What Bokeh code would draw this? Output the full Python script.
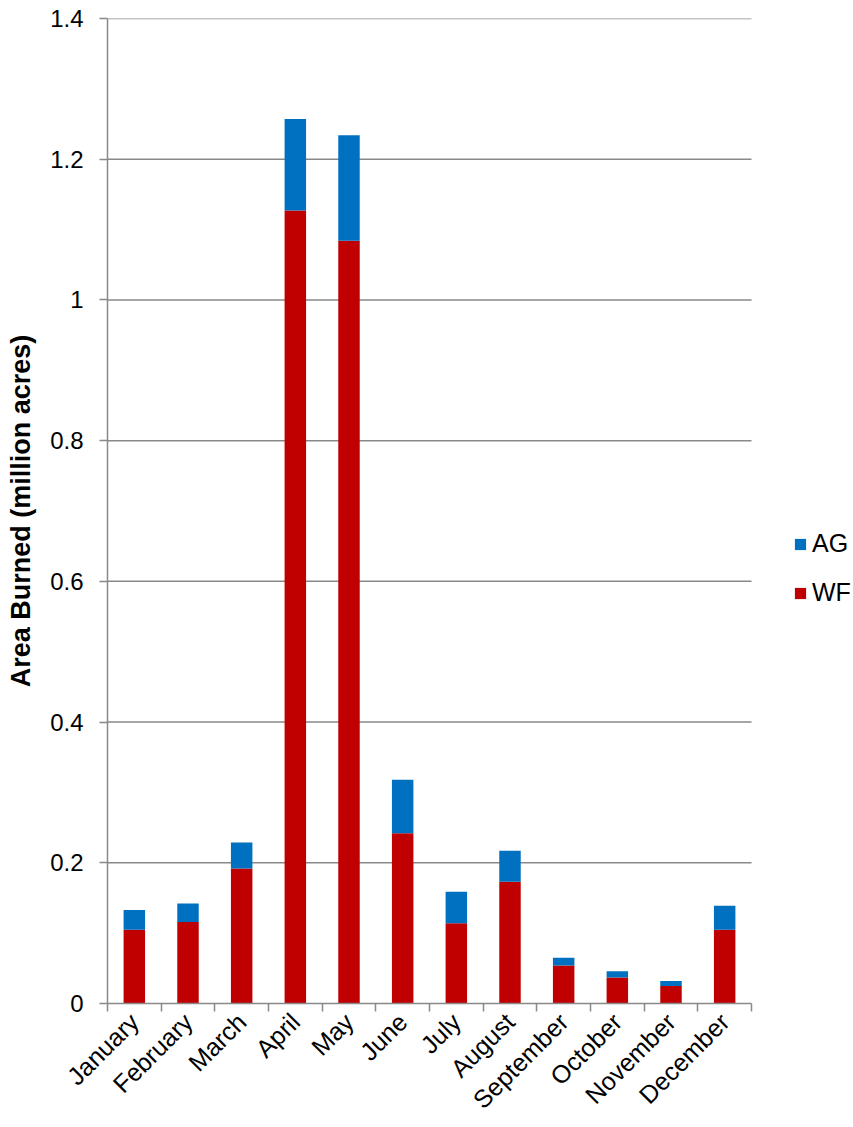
import math
from bokeh.plotting import figure
from bokeh.models import Range1d, FixedTicker, CustomJSTickFormatter, Legend, LegendItem, ColumnDataSource
from bokeh.embed import file_html
from bokeh.resources import INLINE

months = ["January", "February", "March", "April", "May", "June", "July",
          "August", "September", "October", "November", "December"]
wf = [0.105, 0.116, 0.192, 1.127, 1.084, 0.242, 0.114, 0.173, 0.054, 0.037, 0.025, 0.105]
ag = [0.028, 0.026, 0.037, 0.130, 0.150, 0.076, 0.045, 0.044, 0.011, 0.009, 0.007, 0.034]
y_ticks = [0, 0.2, 0.4, 0.6, 0.8, 1.0, 1.2, 1.4]

FONT = "Liberation Sans"
GRAY = "#898989"

n = len(months)
x = [i + 0.5 for i in range(n)]
src = ColumnDataSource(dict(x=x, WF=wf, AG=ag))

# frame extends to the right edge so the legend (outside the plotted area) is not clipped
FRAME_W = 746
PLOT_W = 644
x_max = n * FRAME_W / PLOT_W

p = figure(frame_width=FRAME_W, frame_height=985, output_backend="svg", toolbar_location=None,
           x_range=Range1d(0, x_max), y_range=Range1d(0, 1.4),
           min_border_left=107, min_border_right=0, min_border_top=18, min_border_bottom=124)
p.outline_line_color = None
p.background_fill_color = "white"
p.border_fill_color = "white"

p.xgrid.grid_line_color = None
p.ygrid.grid_line_color = None
# horizontal gridlines limited to the category span
gy = [t for t in y_ticks if t > 0]
p.segment(x0=[0] * len(gy), x1=[n] * len(gy), y0=gy, y1=gy, line_color=GRAY, line_width=1.5)

rs = p.vbar_stack(["WF", "AG"], x="x", width=0.4, source=src,
                  color=["#C00000", "#0070C0"], line_color=None)

# X axis
xa = p.xaxis[0]
xa.bounds = (0, n)
xa.ticker = FixedTicker(ticks=x, minor_ticks=list(range(n + 1)))
xa.major_label_overrides = {xi: m for xi, m in zip(x, months)}
xa.major_label_orientation = math.pi / 4
xa.major_tick_out = 0
xa.major_tick_in = 0
xa.minor_tick_out = 8
xa.minor_tick_in = 0
xa.minor_tick_line_color = GRAY
xa.minor_tick_line_width = 1.5
xa.axis_line_color = GRAY
xa.axis_line_width = 1.5
xa.major_label_text_font = FONT
xa.major_label_text_font_size = "25px"
xa.major_label_text_color = "black"
xa.major_label_standoff = 6

# Y axis
ya = p.yaxis[0]
ya.ticker = FixedTicker(ticks=y_ticks, minor_ticks=[])
ya.formatter = CustomJSTickFormatter(code="return tick.toFixed(1).replace(/\\.0$/, '');")
ya.major_tick_out = 8
ya.major_tick_in = 0
ya.major_tick_line_color = GRAY
ya.major_tick_line_width = 1.5
ya.minor_tick_line_color = None
ya.axis_line_color = GRAY
ya.axis_line_width = 1.5
ya.major_label_text_font = FONT
ya.major_label_text_font_size = "24px"
ya.major_label_text_color = "black"
ya.major_label_standoff = 16
ya.axis_label = "Area Burned (million acres)"
ya.axis_label_text_font = FONT
ya.axis_label_text_font_size = "27px"
ya.axis_label_text_font_style = "bold"
ya.axis_label_text_color = "black"
ya.axis_label_standoff = 11

legend = Legend(items=[LegendItem(label="AG", renderers=[rs[1]]),
                       LegendItem(label="WF", renderers=[rs[0]])],
                location=(686, 396), orientation="vertical")
legend.glyph_width = 14
legend.glyph_height = 14
legend.label_text_font = FONT
legend.label_text_font_size = "25px"
legend.label_text_color = "black"
legend.label_standoff = 5
legend.label_height = 24
legend.spacing = 20
legend.padding = 0
legend.margin = 0
legend.border_line_color = None
legend.background_fill_color = None
legend.background_fill_alpha = 0
p.add_layout(legend, "center")

open("out.html", "w").write(file_html(p, INLINE))
